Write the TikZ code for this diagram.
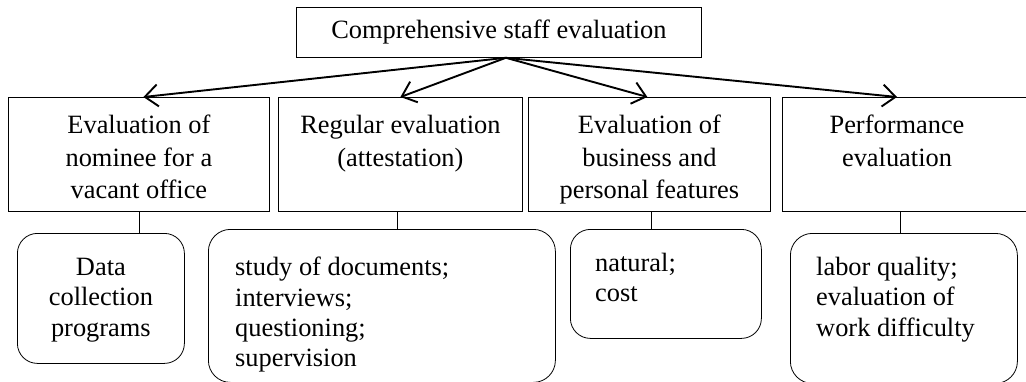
\documentclass[tikz,border=0pt]{standalone}
\usepackage{fontspec}
\setmainfont{Liberation Serif}
\usetikzlibrary{arrows.meta}
\begin{document}
\begin{tikzpicture}[x=1pt,y=-1pt,
  box/.style={draw, line width=0.8pt, inner sep=0pt, anchor=north west},
  rbox/.style={draw, line width=0.8pt, inner sep=0pt, anchor=north west, rounded corners=20pt},
  txt/.style={font=\fontsize{26.4}{32.5}\selectfont, inner sep=0pt, anchor=north, align=center},
  btxt/.style={font=\fontsize{26.4}{30.3}\selectfont, inner sep=0pt, anchor=north west, align=left},
  arr/.style={line width=1.9pt, -{Straight Barb[length=13pt,width=22pt,line width=1.9pt]}},
  conn/.style={line width=0.8pt}]
\useasboundingbox (0,0) rectangle (1026,381);
% top
\node[box, minimum width=405pt, minimum height=50pt, font=\fontsize{26.4}{32.5}\selectfont] (top) at (296,7) {Comprehensive staff evaluation};
% second level
\node[box, minimum width=261pt, minimum height=114pt] (b1) at (8,97) {};
\node[box, minimum width=244pt, minimum height=114pt] (b2) at (278,97) {};
\node[box, minimum width=242pt, minimum height=114pt] (b3) at (528,97) {};
\node[box, minimum width=263pt, minimum height=114pt] (b4) at (782,97) {};
\node[txt] (t1) at ([yshift=-18pt]b1.north) {Evaluation of\\nominee for a\\vacant office};
\node[txt] (t2) at ([yshift=-18pt]b2.north) {Regular evaluation\\(attestation)};
\node[txt] (t3) at ([yshift=-18pt]b3.north) {Evaluation of\\business and\\personal features};
\node[txt] (t4) at ([xshift=115pt,yshift=-18pt]b4.north west) {Performance\\evaluation};
% arrows
\coordinate (src) at ([xshift=7pt]top.south);
\draw[arr] (src) -- ([xshift=4.5pt]b1.north);
\draw[arr] (src) -- (b2.north);
\draw[arr] (src) -- ([xshift=-2pt]b3.north);
\draw[arr] (src) -- ([xshift=115pt]b4.north west);
% third level
\node[rbox, minimum width=167pt, minimum height=130pt] (r1) at (17,233) {};
\node[rbox, minimum width=347pt, minimum height=153pt, rounded corners=22pt] (r2) at (208,229) {};
\node[rbox, minimum width=191pt, minimum height=109pt] (r3) at (570,229) {};
\node[rbox, minimum width=227pt, minimum height=150pt, rounded corners=22pt] (r4) at (790,233) {};
\node[txt, font=\fontsize{26.4}{30.3}\selectfont] (s1) at ([yshift=-25pt]r1.north) {Data\\collection\\programs};
\node[btxt] (s2) at ([xshift=27pt,yshift=-28pt]r2.north west) {study of documents;\\interviews;\\questioning;\\supervision};
\node[btxt] (s3) at ([xshift=25pt,yshift=-24pt]r3.north west) {natural;\\cost};
\node[btxt] (s4) at ([xshift=26pt,yshift=-24pt]r4.north west) {labor quality;\\evaluation of\\work difficulty};
% connectors
\draw[conn] ([xshift=0.5pt]b1.south) -- ([xshift=0.5pt]b1.south |- r1.north);
\draw[conn] ([xshift=-3pt]b2.south) -- ([xshift=-3pt]b2.south |- r2.north);
\draw[conn] ([xshift=2pt]b3.south) -- ([xshift=2pt]b3.south |- r3.north);
\draw[conn] ([xshift=118pt]b4.south west) -- ([xshift=118pt]b4.south west |- r4.north);
\end{tikzpicture}
\end{document}
